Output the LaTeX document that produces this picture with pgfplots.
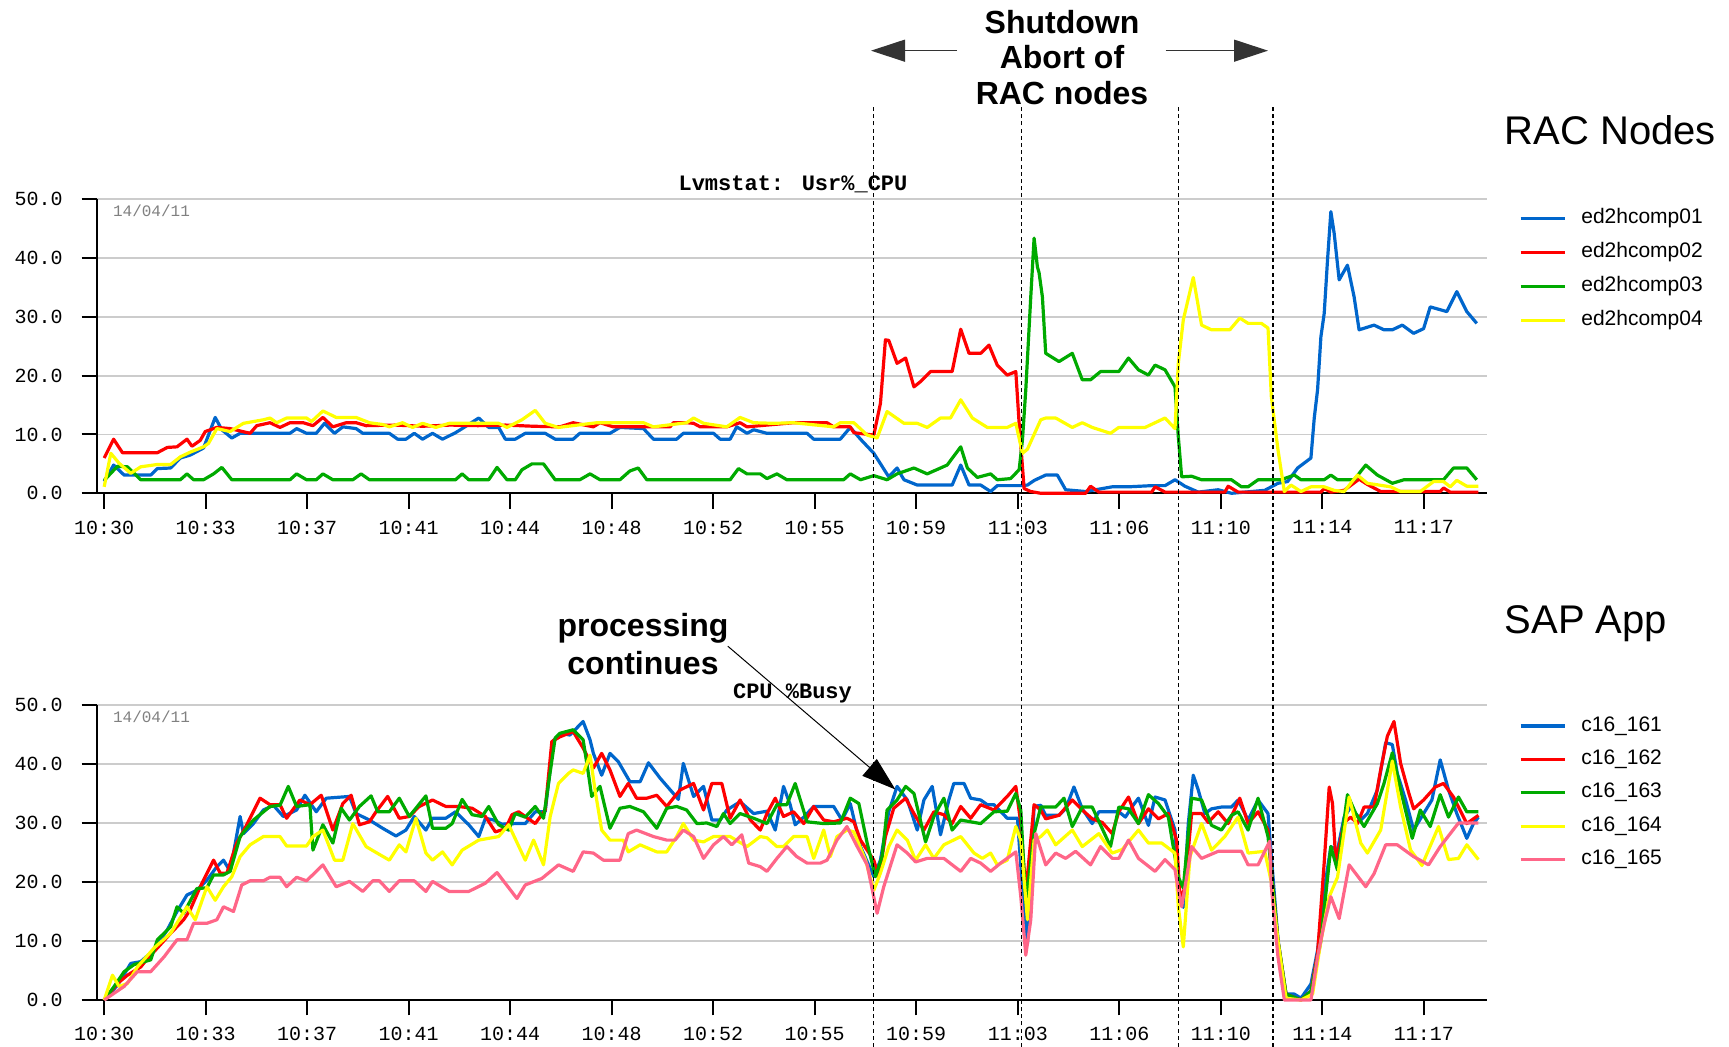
\documentclass[border=0pt]{standalone}
\usepackage{pgfplots}
\pgfplotsset{compat=1.18}
\usetikzlibrary{arrows.meta}
\usepackage{fontspec}
\setmainfont{Liberation Sans}
\newfontfamily\lmono{Liberation Mono}
\definecolor{cblue}{HTML}{0066CC}
\definecolor{cred}{HTML}{FF0000}
\definecolor{cgreen}{HTML}{00AA00}
\definecolor{cyellow}{HTML}{FFFF00}
\definecolor{cpink}{HTML}{FF6688}
\definecolor{gridgray}{HTML}{CCCCCC}
\newcommand{\tickfont}{\lmono\fontsize{10}{12}\selectfont}
\pgfplotsset{
  sapstyle/.style={
    scale only axis, width=694.85pt,
    xmin=-0.26, xmax=49.94, ymin=0, ymax=50,
    axis x line*=bottom, axis y line*=left,
    axis line style={-, line width=1pt, black},
    xtick={0,3.6667,7.3333,11,14.6667,18.3333,22,25.6667,29.3333,33,36.6667,40.3333,44,47.6667},
    xticklabels={10:30,10:33,10:37,10:41,10:44,10:48,10:52,10:55,10:59,11:03,11:06,11:10,11:14,11:17},
    ytick={0,10,20,30,40,50},
    yticklabels={0.0,10.0,20.0,30.0,40.0,50.0},
    tick align=outside, major tick length=7.7pt,
    tick style={line width=1pt, black},
    ymajorgrids, grid style={line width=0.9pt, gridgray},
    clip=false,
    ticklabel style={font=\tickfont},
    yticklabel style={xshift=-6pt},
    xticklabel style={yshift=-2.5pt},
    every axis plot/.append style={line width=1.6pt, line join=round, mark=none},
    legend cell align=left,
    legend image code/.code={\draw[#1] (0pt,0pt) -- (22pt,0pt);},
  }
}
\begin{document}
\begin{tikzpicture}
\path[use as bounding box] (0,0) rectangle (864.5pt,523.5pt);

% ---------------- top axis: RAC nodes ----------------
\begin{axis}[sapstyle, at={(48.5pt,276.85pt)}, anchor=south west, height=147pt,
  legend style={at={(1,1)}, anchor=north west, xshift=16pt, yshift=-3.5pt,
    draw=none, fill=none, inner sep=0pt, row sep=5pt, column sep=6.5pt,
    font=\fontsize{10.5}{12}\selectfont,
    nodes={inner sep=1pt, text height=7.6pt, text depth=2.4pt}}]
\addplot[cblue] coordinates {(0,2.0)(0.34,4.8)(0.72,3.1)(1.68,3.1)(1.92,4.2)(2.40,4.3)(2.75,6.0)(3.11,6.5)(3.59,7.7)(4.01,12.9)(4.25,10.8)(4.61,9.4)(4.91,10.2)(6.71,10.2)(6.95,11.0)(7.31,10.2)(7.66,10.2)(7.96,11.9)(8.32,10.2)(8.62,11.3)(9.10,11.0)(9.34,10.2)(10.30,10.2)(10.60,9.2)(10.90,9.2)(11.20,10.2)(11.50,9.2)(11.86,10.2)(12.22,9.2)(12.69,10.3)(12.93,11.0)(13.53,12.8)(13.89,11.2)(14.25,11.2)(14.49,9.2)(14.85,9.2)(15.21,10.2)(15.93,10.2)(16.29,9.2)(16.94,9.2)(17.18,10.2)(18.27,10.2)(18.63,11.2)(19.48,11.0)(19.84,9.2)(20.68,9.2)(20.92,10.2)(22.01,10.2)(22.25,9.2)(22.61,9.2)(22.85,11.3)(23.22,10.2)(23.46,10.8)(23.94,10.2)(25.39,10.2)(25.63,9.2)(26.59,9.2)(26.95,11.2)(27.32,9.2)(27.80,6.8)(28.34,2.8)(28.64,4.3)(28.89,2.3)(29.37,1.4)(30.63,1.4)(30.94,4.8)(31.24,1.4)(31.66,1.4)(32.02,0.3)(32.26,1.3)(33.11,1.3)(33.35,1.4)(33.6,2.2)(34.01,3.1)(34.43,3.1)(34.73,0.6)(35.45,0.3)(36.41,1.1)(37.0,1.1)(37.84,1.3)(38.32,1.3)(38.68,2.3)(39.04,1.2)(39.52,0.2)(40.24,0.6)(40.72,0)(41.92,0.5)(42.4,1.7)(42.75,2.0)(43.11,4.3)(43.59,6.0)(43.71,12.8)(43.83,17.6)(43.95,26.6)(44.07,30.6)(44.19,39.7)(44.31,47.9)(44.43,44.2)(44.61,36.3)(44.91,38.8)(45.15,33.4)(45.33,27.8)(45.87,28.6)(46.23,27.8)(46.53,27.8)(46.89,28.6)(47.3,27.2)(47.66,28.0)(47.9,31.7)(48.5,30.9)(48.86,34.3)(49.22,30.9)(49.58,28.9)};
\addlegendentry{ed2hcomp01}
\addplot[cred] coordinates {(0,6.0)(0.34,9.2)(0.66,6.9)(1.92,6.9)(2.28,7.8)(2.63,7.9)(2.99,9.2)(3.17,8.0)(3.47,9.0)(3.65,10.5)(4.07,11.2)(4.55,11.0)(5.27,10.2)(5.51,11.5)(5.99,12.0)(6.35,11.2)(6.71,12.0)(7.19,12.0)(7.54,11.5)(7.90,12.9)(8.26,11.3)(8.74,12.0)(9.10,12.0)(9.46,11.5)(10.5,11.6)(11.5,11.4)(12.5,11.6)(13.5,11.5)(14.5,11.6)(15.5,11.4)(16.46,11.3)(16.94,12.0)(17.67,11.3)(17.91,12.0)(18.39,11.3)(20.44,11.3)(20.56,12.0)(21.04,12.0)(21.29,11.9)(21.53,11.3)(22.49,11.3)(22.97,12.0)(23.22,11.3)(24.90,12.0)(26.11,12.0)(26.35,11.3)(26.95,11.3)(27.08,10.3)(27.80,9.9)(28.04,15.3)(28.22,26.1)(28.34,26.0)(28.64,22.1)(28.95,23.0)(29.25,18.1)(29.49,19.0)(29.85,20.7)(30.63,20.7)(30.94,27.9)(31.24,23.8)(31.66,23.8)(31.96,25.2)(32.26,21.8)(32.62,20.1)(32.93,20.7)(33.05,11.9)(33.23,0.8)(33.47,0.3)(33.83,0.0)(35.45,0.0)(35.63,1.2)(35.93,0.2)(37.84,0.2)(37.96,1.1)(38.32,0.2)(40.48,0.2)(40.6,1.2)(40.96,0.2)(43.95,0.2)(44.07,0.8)(44.31,0.2)(44.79,0.5)(45.33,2.4)(45.63,1.5)(46.11,0.3)(48.26,0.3)(48.38,0.9)(48.62,0.2)(49.64,0.2)};
\addlegendentry{ed2hcomp02}
\addplot[cgreen] coordinates {(0,2.2)(0.48,4.6)(0.84,4.5)(1.32,2.3)(2.75,2.3)(2.99,3.3)(3.23,2.3)(3.59,2.3)(3.95,3.3)(4.25,4.4)(4.61,2.3)(6.71,2.3)(6.95,3.3)(7.31,2.3)(7.66,2.3)(7.90,3.3)(8.26,2.3)(8.98,2.3)(9.28,3.3)(9.58,2.3)(12.69,2.3)(12.93,3.3)(13.17,2.3)(13.89,2.3)(14.19,4.4)(14.55,2.3)(14.85,2.3)(15.09,4.0)(15.45,5.0)(15.87,5.0)(16.29,2.3)(17.18,2.3)(17.55,3.3)(17.91,2.3)(18.63,2.3)(18.99,3.8)(19.29,4.3)(19.60,2.3)(22.61,2.3)(22.91,4.2)(23.22,3.3)(23.70,3.3)(23.94,2.5)(24.30,3.3)(24.66,2.3)(26.71,2.3)(26.95,3.3)(27.32,2.3)(27.80,3.0)(28.28,2.3)(28.64,3.3)(29.25,4.3)(29.73,3.3)(30.45,4.8)(30.94,7.9)(31.18,4.3)(31.54,2.7)(32.02,3.3)(32.26,2.3)(32.74,2.5)(33.05,4.0)(33.17,9.1)(33.29,17.6)(33.47,33.4)(33.59,43.4)(33.71,38.5)(33.77,37.5)(33.89,33.4)(34.01,23.8)(34.49,22.4)(34.97,23.8)(35.33,19.3)(35.63,19.3)(35.99,20.7)(36.65,20.7)(37.0,23.0)(37.36,21.0)(37.72,20.1)(37.96,21.8)(38.32,21.0)(38.68,18.1)(38.8,9.6)(38.92,2.8)(39.28,2.9)(39.64,2.3)(40.72,2.3)(41.08,1.1)(41.32,1.1)(41.68,2.3)(42.51,2.3)(42.99,3.1)(43.23,2.3)(44.07,2.3)(44.31,3.1)(44.55,2.3)(45.15,2.3)(45.57,4.8)(45.99,3.1)(46.53,1.7)(46.95,2.3)(48.38,2.3)(48.74,4.3)(49.22,4.3)(49.58,2.3)};
\addlegendentry{ed2hcomp03}
\addplot[cyellow] coordinates {(0,1.1)(0.24,6.8)(0.54,5.1)(0.96,3.4)(1.32,4.5)(1.92,4.9)(2.40,4.9)(2.75,6.2)(3.11,7.0)(3.59,7.9)(3.77,8.5)(4.07,11.0)(4.55,10.5)(5.03,11.9)(5.75,12.5)(5.99,12.8)(6.23,12.0)(6.59,12.8)(7.31,12.8)(7.49,12.2)(7.90,14.0)(8.38,12.9)(9.10,12.9)(9.58,12.0)(10.06,11.7)(10.30,11.3)(10.78,12.0)(11.14,11.2)(11.50,11.9)(11.98,11.2)(12.46,11.9)(12.81,11.9)(14.25,11.9)(14.55,11.2)(15.09,12.5)(15.57,14.1)(15.93,11.9)(16.41,11.2)(17.79,12.0)(18.87,12.0)(19.48,12.0)(19.84,11.3)(21.04,12.0)(21.29,12.8)(21.65,11.9)(22.49,11.3)(22.97,12.9)(23.46,12.0)(24.18,11.9)(24.90,12.0)(26.35,11.3)(26.59,12.0)(27.08,12.0)(27.56,9.9)(27.92,9.4)(28.28,13.9)(28.89,11.9)(29.37,11.9)(29.73,11.2)(30.21,12.8)(30.57,12.8)(30.94,15.9)(31.36,12.8)(31.90,11.2)(32.62,11.2)(32.93,11.9)(33.17,6.8)(33.35,7.5)(33.83,12.5)(34.01,12.8)(34.37,12.8)(34.97,11.2)(35.33,12.0)(35.69,11.2)(36.35,10.2)(36.65,11.2)(37.6,11.2)(38.32,12.8)(38.68,11.0)(38.8,22.1)(38.98,29.5)(39.34,36.7)(39.64,28.6)(40.0,27.8)(40.66,27.8)(41.02,29.8)(41.32,28.9)(41.8,28.9)(42.04,28.1)(42.16,16.4)(42.4,7.4)(42.63,0.3)(42.87,1.4)(43.23,0.3)(43.59,1.1)(44.07,1.1)(44.43,0.5)(44.79,0.3)(45.27,3.1)(45.63,1.7)(46.47,1.1)(46.83,0.3)(47.54,0.3)(48.02,2.0)(48.38,2.0)(48.62,1.1)(48.86,2.2)(49.22,1.2)(49.64,1.2)};
\addlegendentry{ed2hcomp04}
\end{axis}

% ---------------- bottom axis: SAP App ----------------
\begin{axis}[sapstyle, at={(48.5pt,23.5pt)}, anchor=south west, height=147.5pt,
  legend style={at={(1,1)}, anchor=north west, xshift=16pt, yshift=-4.3pt,
    draw=none, fill=none, inner sep=0pt, row sep=4.7pt, column sep=6.5pt,
    font=\fontsize{10.5}{12}\selectfont,
    nodes={inner sep=1pt, text height=7.6pt, text depth=2.4pt}}]
\addplot[cblue] coordinates {(0,0)(0.48,2.5)(0.96,6.2)(1.32,6.5)(1.80,8.5)(2.28,11.9)(2.63,15.0)(2.99,17.8)(3.35,18.6)(3.71,20.3)(4.07,22.6)(4.31,23.7)(4.55,21.8)(4.91,31.1)(5.03,28.2)(5.39,29.9)(5.75,32.2)(6.11,33.0)(6.47,31.1)(6.95,32.2)(7.25,34.7)(7.66,31.9)(8.02,34.2)(8.86,34.5)(9.10,31.6)(9.58,30.5)(10.06,29.1)(10.54,27.8)(10.90,28.8)(11.20,31.1)(11.62,28.8)(11.86,30.8)(12.34,30.8)(12.69,31.9)(13.17,29.7)(13.53,27.7)(13.77,30.8)(14.07,30.5)(14.37,29.8)(14.85,29.9)(15.21,29.9)(15.57,31.9)(15.93,31.9)(16.23,44.0)(16.53,45.2)(16.82,44.9)(17.30,47.2)(17.55,44.1)(17.67,41.8)(17.97,38.1)(18.27,41.8)(18.57,40.4)(18.99,37.0)(19.36,37.0)(19.66,40.2)(20.08,37.6)(20.56,35.0)(20.74,34.0)(20.92,40.1)(21.29,34.5)(21.65,36.2)(21.95,30.5)(22.25,30.5)(22.49,32.2)(22.97,33.6)(23.46,31.6)(23.94,32.0)(24.24,28.8)(24.54,36.2)(24.78,33.1)(24.96,29.7)(25.27,31.0)(25.63,32.8)(26.35,32.8)(26.65,30.5)(26.95,33.3)(27.32,26.0)(27.80,20.9)(28.04,23.7)(28.34,31.9)(28.64,36.2)(29.01,33.9)(29.37,28.8)(29.61,33.9)(29.91,36.2)(30.21,28.0)(30.51,33.9)(30.69,36.7)(31.06,36.7)(31.30,34.2)(31.66,33.9)(31.90,33.1)(32.14,33.1)(32.62,30.8)(32.99,30.8)(33.17,18.6)(33.35,9.6)(33.59,32.8)(33.83,33.0)(34.01,31.3)(34.49,31.3)(34.73,32.4)(35.03,36.1)(35.33,32.4)(35.69,29.9)(35.93,31.9)(36.65,31.9)(36.89,31.0)(37.12,32.7)(37.36,34.2)(37.72,29.6)(37.96,34.4)(38.32,33.9)(38.68,28.8)(38.8,18.6)(38.98,15.7)(39.16,29.9)(39.34,38.1)(39.52,35.6)(39.76,31.6)(40.0,32.4)(40.36,32.7)(40.72,32.7)(40.96,33.9)(41.32,30.5)(41.68,33.9)(42.04,31.6)(42.16,24.4)(42.4,10.2)(42.69,1.0)(42.99,1.0)(43.23,0.3)(43.59,2.7)(43.83,8.4)(44.07,18.6)(44.31,26.0)(44.55,25.4)(44.79,31.0)(45.03,32.7)(45.39,30.5)(45.63,31.6)(45.99,35.6)(46.29,43.6)(46.53,43.3)(46.71,38.4)(47.01,33.9)(47.3,28.8)(47.66,31.6)(47.96,33.9)(48.26,40.7)(48.56,35.6)(48.86,31.6)(49.22,27.4)(49.46,29.9)(49.64,31.0)};
\addlegendentry{c16\_161}
\addplot[cred] coordinates {(0,0)(0.48,2.8)(0.84,4.2)(1.32,5.6)(1.56,7.0)(1.92,8.8)(2.40,11.3)(2.87,13.6)(3.11,15.3)(3.47,19.2)(3.95,23.7)(4.19,21.5)(4.43,21.5)(4.79,26.6)(5.15,29.7)(5.63,34.2)(5.99,33.1)(6.35,33.1)(6.59,30.8)(7.07,33.9)(7.43,33.1)(7.84,34.7)(8.26,28.8)(8.62,33.3)(8.92,34.7)(9.22,29.7)(9.58,30.2)(9.82,31.9)(10.24,34.5)(10.66,30.8)(11.02,31.1)(11.38,32.8)(11.86,33.9)(12.34,32.8)(12.81,32.8)(13.29,32.5)(13.77,31.1)(14.13,28.5)(14.49,29.0)(14.73,31.4)(14.97,31.9)(15.57,29.9)(15.93,32.2)(16.17,43.8)(16.46,44.6)(16.94,45.5)(17.30,42.7)(17.67,39.3)(17.97,41.8)(18.27,39.0)(18.63,34.5)(18.93,36.7)(19.23,34.2)(19.60,34.2)(19.96,34.7)(20.32,32.8)(20.80,35.6)(21.29,36.7)(21.65,32.2)(21.95,36.7)(22.31,36.7)(22.61,30.8)(22.97,33.9)(23.34,30.5)(23.70,28.8)(23.94,31.6)(24.24,34.2)(24.54,31.1)(24.90,31.9)(25.27,29.9)(25.63,32.8)(25.99,30.5)(26.35,30.2)(26.83,30.8)(27.08,30.2)(27.32,27.1)(27.80,23.7)(27.98,20.9)(28.22,27.7)(28.52,32.5)(28.95,34.2)(29.25,31.6)(29.61,28.8)(29.97,31.9)(30.33,31.4)(30.63,29.9)(30.94,32.8)(31.30,30.8)(31.66,33.1)(32.14,32.2)(32.62,34.5)(32.93,36.2)(33.11,29.9)(33.29,18.1)(33.59,33.1)(33.83,32.2)(34.01,30.7)(34.49,31.3)(34.97,33.9)(35.33,32.2)(35.69,30.7)(36.05,30.1)(36.41,28.2)(36.65,31.9)(37.0,34.4)(37.36,29.9)(37.72,32.4)(38.08,30.7)(38.44,31.6)(38.74,27.1)(38.86,17.3)(39.04,19.0)(39.28,31.6)(39.64,31.6)(39.88,30.1)(40.24,31.9)(40.6,29.9)(41.02,34.2)(41.32,29.9)(41.68,31.9)(42.04,28.8)(42.16,22.0)(42.4,10.0)(42.69,1.0)(43.23,0.0)(43.59,1.5)(43.83,7.9)(44.07,23.3)(44.25,36.1)(44.37,33.3)(44.49,23.3)(44.79,30.1)(45.03,31.0)(45.27,29.9)(45.51,32.7)(45.87,32.7)(46.11,39.0)(46.35,44.7)(46.59,47.2)(46.83,40.1)(47.13,35.0)(47.3,32.4)(47.66,33.9)(48.08,36.1)(48.38,36.7)(48.74,34.4)(49.22,29.9)(49.64,31.3)};
\addlegendentry{c16\_162}
\addplot[cgreen] coordinates {(0,0)(0.36,2.3)(0.72,4.8)(1.08,6.0)(1.68,6.8)(1.92,10.2)(2.40,12.4)(2.63,15.8)(2.87,14.7)(3.35,18.9)(3.71,19.0)(3.95,21.2)(4.31,21.2)(4.55,21.8)(4.91,27.7)(5.39,30.5)(5.99,32.8)(6.35,33.0)(6.65,36.2)(6.95,32.8)(7.43,33.1)(7.54,25.4)(7.90,29.7)(8.26,26.6)(8.56,32.5)(8.86,30.5)(9.22,32.8)(9.64,34.6)(9.88,31.9)(10.30,31.9)(10.66,34.2)(11.02,31.1)(11.62,34.6)(11.86,29.1)(12.34,29.1)(12.57,29.9)(12.93,34.0)(13.29,31.4)(13.65,31.1)(13.89,32.8)(14.25,29.7)(14.61,28.8)(14.85,31.6)(15.21,31.0)(15.57,32.8)(15.87,30.8)(16.05,36.7)(16.29,44.4)(16.46,45.2)(16.94,45.8)(17.30,44.1)(17.49,38.4)(17.61,34.5)(17.91,36.2)(18.27,29.1)(18.63,32.5)(18.99,32.8)(19.48,31.9)(19.96,29.1)(20.32,32.5)(20.68,32.8)(21.04,32.2)(21.41,29.9)(21.77,30.0)(22.13,29.4)(22.37,31.6)(22.61,29.9)(22.97,31.6)(23.46,30.8)(23.94,29.9)(24.30,33.1)(24.66,33.1)(24.96,36.7)(25.39,30.2)(25.99,29.9)(26.59,30.0)(26.95,34.2)(27.26,33.3)(27.56,26.6)(27.86,20.9)(28.10,24.3)(28.28,32.2)(28.64,33.9)(28.95,36.2)(29.25,35.0)(29.67,26.8)(29.97,31.1)(30.33,34.2)(30.63,28.8)(30.94,30.5)(31.66,29.9)(32.14,31.9)(32.62,32.0)(32.93,35.0)(33.11,32.2)(33.29,16.4)(33.59,28.2)(33.83,32.7)(34.07,32.7)(34.37,32.7)(34.67,34.2)(34.97,29.4)(35.33,32.7)(35.69,32.7)(36.35,26.0)(36.65,32.7)(37.0,32.4)(37.36,29.9)(37.72,34.8)(38.08,33.3)(38.44,31.0)(38.8,20.8)(38.98,19.0)(39.28,34.2)(39.64,33.9)(40.0,29.6)(40.36,28.8)(40.72,31.3)(40.96,31.9)(41.32,28.8)(41.68,34.2)(42.04,27.7)(42.16,22.0)(42.4,10.0)(42.69,1.0)(43.23,0.0)(43.59,1.5)(43.95,10.0)(44.31,26.0)(44.55,22.0)(44.91,34.8)(45.21,31.6)(45.51,29.4)(45.99,33.3)(46.23,36.7)(46.53,41.9)(46.83,35.6)(47.25,27.4)(47.54,32.2)(47.9,29.4)(48.26,34.8)(48.56,31.0)(48.92,34.4)(49.22,31.9)(49.64,31.9)};
\addlegendentry{c16\_163}
\addplot[cyellow] coordinates {(0,0)(0.30,4.2)(0.54,2.3)(0.84,2.8)(1.20,5.6)(1.80,8.8)(2.40,11.3)(2.99,15.8)(3.29,13.6)(3.71,19.2)(4.01,16.9)(4.31,19.2)(4.61,20.9)(4.91,24.3)(5.27,26.3)(5.75,27.7)(6.35,27.7)(6.59,26.1)(7.31,26.1)(7.54,27.7)(7.90,28.8)(8.32,23.7)(8.62,23.7)(8.98,29.9)(9.46,26.0)(9.82,25.0)(10.30,23.7)(10.66,26.3)(10.90,25.1)(11.26,30.8)(11.62,24.9)(11.86,23.7)(12.22,25.1)(12.57,22.9)(12.93,25.4)(13.53,27.1)(13.89,27.4)(14.25,27.7)(14.61,29.7)(15.21,23.7)(15.51,27.1)(15.87,22.9)(16.11,31.1)(16.41,36.7)(16.77,38.4)(16.94,39.0)(17.30,38.4)(17.55,41.5)(17.73,35.6)(17.97,28.8)(18.27,27.1)(18.75,27.1)(18.93,25.1)(19.36,26.3)(19.96,25.1)(20.32,25.1)(20.68,27.7)(20.92,29.9)(21.29,27.1)(21.65,26.8)(22.01,27.7)(22.61,27.7)(23.22,26.0)(23.70,27.7)(23.94,27.5)(24.30,26.0)(24.54,26.0)(24.90,27.7)(25.39,27.7)(25.63,24.0)(25.99,28.8)(26.23,24.3)(26.47,27.7)(26.83,28.8)(27.08,28.5)(27.50,23.7)(27.80,18.6)(28.04,21.5)(28.34,26.0)(28.64,28.8)(29.01,27.1)(29.31,23.7)(29.67,26.3)(29.97,24.0)(30.33,26.3)(30.94,27.7)(31.42,24.9)(31.72,24.0)(32.02,24.9)(32.26,22.9)(32.62,23.7)(32.93,29.4)(33.11,27.1)(33.35,13.6)(33.59,27.1)(33.83,27.7)(34.07,28.8)(34.37,26.3)(34.97,28.8)(35.33,26.0)(35.93,28.2)(36.41,24.9)(36.77,25.5)(37.36,28.8)(37.72,26.6)(38.2,26.6)(38.68,24.9)(38.8,15.8)(38.98,9.0)(39.22,24.3)(39.64,29.9)(40.0,25.4)(40.48,27.7)(40.96,31.0)(41.32,24.9)(41.92,25.2)(42.16,20.0)(42.4,10.0)(42.69,0.3)(43.23,0)(43.65,1.0)(43.95,10.0)(44.25,17.5)(44.55,20.8)(44.97,34.4)(45.39,26.6)(45.63,24.9)(46.11,28.8)(46.53,40.5)(46.83,32.7)(47.19,25.4)(47.6,22.8)(48.2,29.4)(48.56,23.8)(48.92,24.0)(49.22,26.3)(49.64,23.8)};
\addlegendentry{c16\_164}
\addplot[cpink] coordinates {(0,0)(0.72,2.3)(1.20,4.8)(1.68,4.8)(2.16,7.3)(2.63,10.2)(2.99,10.2)(3.23,13.0)(3.71,13.0)(4.07,13.6)(4.31,15.8)(4.67,15.0)(4.97,19.5)(5.27,20.2)(5.75,20.2)(5.99,20.8)(6.35,20.8)(6.59,19.2)(6.95,20.8)(7.31,20.2)(7.90,22.9)(8.38,19.2)(8.86,20.1)(9.34,18.4)(9.70,20.2)(9.94,20.2)(10.30,18.4)(10.66,20.2)(11.20,20.2)(11.62,18.4)(11.86,20.1)(12.46,18.4)(13.17,18.4)(13.77,19.8)(14.19,21.6)(14.91,17.2)(15.21,19.5)(15.81,20.6)(16.41,22.9)(16.94,21.8)(17.30,25.1)(17.67,24.9)(18.03,23.7)(18.63,23.7)(18.93,28.2)(19.23,28.8)(19.84,27.7)(20.32,27.1)(20.62,27.1)(20.92,28.8)(21.29,27.7)(21.65,24.0)(22.01,26.3)(22.37,27.7)(22.67,26.3)(23.03,28.0)(23.28,23.2)(23.70,22.6)(23.94,21.8)(24.30,24.0)(24.66,26.0)(25.02,24.3)(25.39,23.2)(25.87,23.2)(26.11,23.7)(26.47,27.1)(26.83,29.4)(27.20,26.0)(27.56,22.9)(27.92,14.7)(28.16,19.2)(28.64,26.3)(29.01,24.9)(29.31,23.4)(29.73,24.0)(30.33,24.0)(30.94,21.8)(31.30,24.0)(31.66,23.2)(32.02,21.8)(32.38,23.2)(32.93,25.1)(33.11,17.5)(33.29,7.6)(33.47,13.6)(33.65,28.2)(34.01,22.9)(34.37,24.9)(34.73,24.0)(35.09,25.2)(35.63,22.9)(35.99,26.0)(36.41,24.0)(36.65,24.0)(37.0,27.1)(37.36,24.0)(37.96,21.8)(38.32,23.8)(38.68,22.1)(38.8,18.6)(38.92,15.8)(39.1,20.8)(39.28,26.0)(39.64,24.0)(40.24,25.2)(41.08,25.2)(41.32,22.9)(41.68,22.9)(42.1,26.9)(42.16,19.2)(42.4,7.3)(42.63,0)(43.59,0)(43.83,7.3)(44.07,12.9)(44.31,17.5)(44.61,13.8)(44.97,22.9)(45.57,19.2)(45.87,21.4)(46.29,26.3)(46.71,26.3)(47.3,24.3)(47.84,22.9)(48.26,26.0)(48.92,30.0)(49.64,30.0)};
\addlegendentry{c16\_165}
% dashed markers (shutdown aborts)
\foreach \xv in {27.80,33.12,38.82,42.22}{
  \edef\tmp{\noexpand\draw[black, line width=0.55pt, dash pattern=on 2pt off 1.6pt] (axis cs:\xv,-7.97) -- (axis cs:\xv,151.36);}
  \tmp
}
\end{axis}

% ---------------- annotations ----------------
\node[font=\lmono\fontsize{11}{13}\selectfont\bfseries] at (396.5pt,431.25pt) {Lvmstat: Usr\%\_CPU};
\node[font=\lmono\fontsize{11}{13}\selectfont\bfseries] at (396.25pt,176.85pt) {CPU \%Busy};
\node[font=\lmono\fontsize{8}{9}\selectfont, text=black!50] at (75.75pt,418pt) {14/04/11};
\node[font=\lmono\fontsize{8}{9}\selectfont, text=black!50] at (75.75pt,165pt) {14/04/11};

\node[anchor=base west, font=\fontsize{20}{24}\selectfont] at (748.8pt,451.3pt) {RAC Nodes};
\node[anchor=base west, font=\fontsize{20}{24}\selectfont] at (748.8pt,206.5pt) {SAP App};

\node[font=\fontsize{16}{18}\selectfont\bfseries] at (531pt,512.5pt) {Shutdown};
\node[font=\fontsize{16}{18}\selectfont\bfseries] at (531pt,494.85pt) {Abort of};
\node[font=\fontsize{16}{18}\selectfont\bfseries] at (531pt,477.2pt) {RAC nodes};
\draw[black!80, line width=0.6pt, -{Triangle[length=17pt,width=11pt]}] (478.5pt,498.15pt) -- (435.5pt,498.15pt);
\draw[black!80, line width=0.6pt, -{Triangle[length=17pt,width=11pt]}] (582.75pt,498.15pt) -- (634pt,498.15pt);

\node[font=\fontsize{16}{18}\selectfont\bfseries] at (321.5pt,209.25pt) {processing};
\node[font=\fontsize{16}{18}\selectfont\bfseries] at (321.5pt,192.15pt) {continues};
\draw[black, line width=0.5pt, -{Triangle[length=17pt,width=11pt]}] (363.9pt,200.4pt) -- (447.7pt,128.75pt);
\end{tikzpicture}
\end{document}
